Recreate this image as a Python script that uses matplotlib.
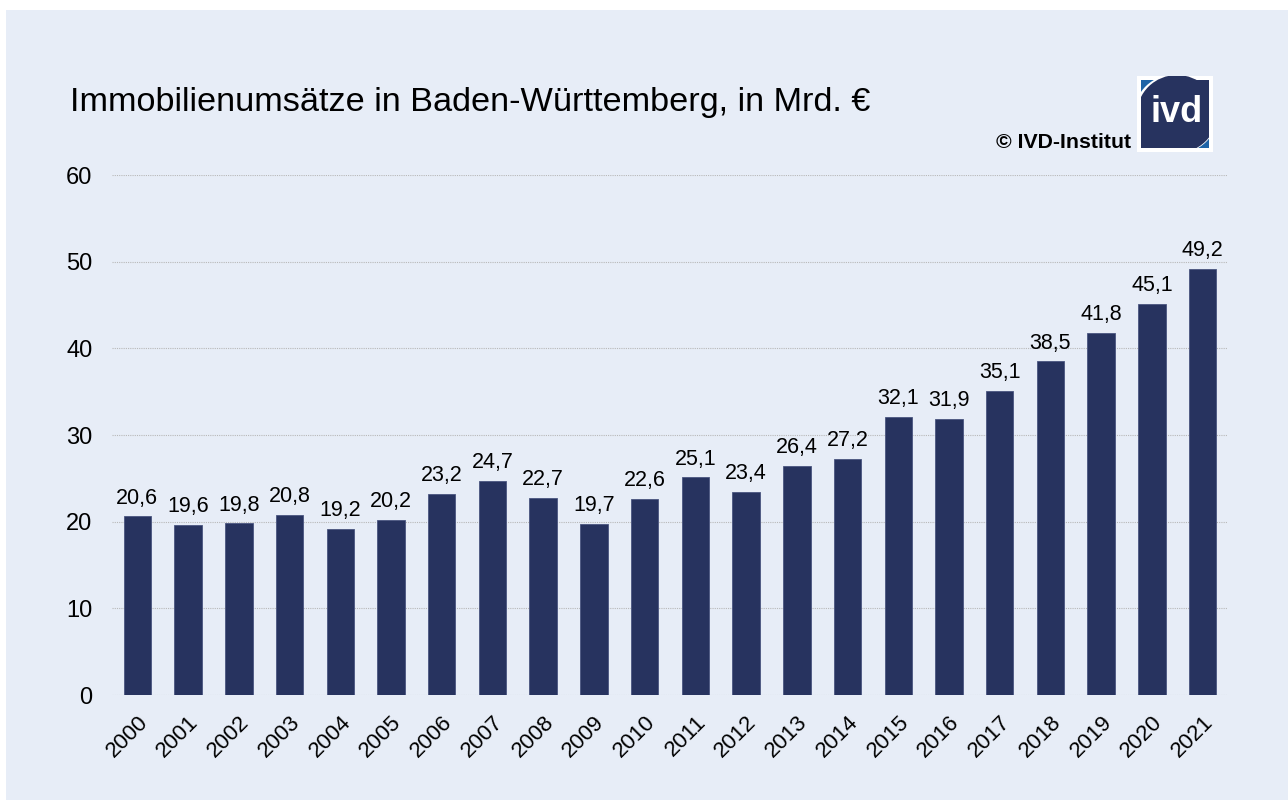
import matplotlib
matplotlib.use("Agg")
import matplotlib.pyplot as plt
from matplotlib.patches import Rectangle, Ellipse
from matplotlib.transforms import ScaledTranslation
import numpy as np

plt.rcParams['font.family'] = ['Liberation Sans', 'DejaVu Sans']

years = [str(y) for y in range(2000, 2022)]
values = [20.6, 19.6, 19.8, 20.8, 19.2, 20.2, 23.2, 24.7, 22.7, 19.7, 22.6,
          25.1, 23.4, 26.4, 27.2, 32.1, 31.9, 35.1, 38.5, 41.8, 45.1, 49.2]
yticks = [0, 10, 20, 30, 40, 50, 60]
title = "Immobilienumsätze in Baden-Württemberg, in Mrd. €"
credit = "© IVD-Institut"

W, H = 1288, 800
fig = plt.figure(figsize=(W / 100, H / 100), dpi=100, facecolor='white')
bg = '#E7EDF7'
fig.patches.append(Rectangle((6 / W, 0), 1 - 6 / W, 1 - 10 / H, transform=fig.transFigure,
                             facecolor=bg, edgecolor='none', zorder=-5))

left, right = 112, 1228
top, bottom = 175, 695
ax = fig.add_axes([left / W, 1 - bottom / H, (right - left) / W, (bottom - top) / H])
ax.set_facecolor('none')
ax.set_zorder(2)

x = np.arange(len(years))
ax.bar(x, values, width=0.54, color='#27335F', edgecolor='#4A5580', linewidth=0.6, zorder=3)
for xi, v in zip(x, values):
    ax.text(xi, v + 0.9, f"{v:.1f}".replace('.', ','), ha='center', va='bottom',
            fontsize=15.5, color='black', zorder=4)

ax.set_xlim(-0.5, len(years) - 0.5)
ax.set_ylim(0, 60)
ax.set_yticks(yticks)
ax.set_yticklabels([str(t) for t in yticks], fontsize=17)
ax.set_xticks(x)
ax.set_xticklabels(years, rotation=45, ha='right', va='top', fontsize=16, rotation_mode='anchor')
shift = ScaledTranslation(4 / 100, 0, fig.dpi_scale_trans)
for lab in ax.get_xticklabels():
    lab.set_transform(lab.get_transform() + shift)
ax.tick_params(axis='both', length=0)
ax.tick_params(axis='y', pad=14)
ax.tick_params(axis='x', pad=12)
ax.grid(axis='y', color='#B8B8B8', linestyle=(0, (1, 1)), linewidth=0.8, zorder=0)
ax.set_axisbelow(True)
for s in ax.spines.values():
    s.set_visible(False)

fig.text(70 / W, 1 - 103 / H, title, fontsize=24.7, ha='left', va='center', color='black')
fig.text(1131 / W, 1 - 143 / H, credit, fontsize=15.3, fontweight='bold', ha='right', va='center')

# logo
def frect(x0, y0, w, h, color, z):
    fig.patches.append(Rectangle((x0 / W, 1 - (y0 + h) / H), w / W, h / H, transform=fig.transFigure,
                                 facecolor=color, edgecolor='none', zorder=z))

def fell(cx, cy, w, h, color, z):
    fig.patches.append(Ellipse((cx / W, 1 - cy / H), w / W, h / H, transform=fig.transFigure,
                               facecolor=color, edgecolor='none', zorder=z))

navy = '#27335F'
frect(1137, 76, 76, 76, 'white', 5)
ix0, iy0, iw, ih = 1141, 80, 68, 68
frect(ix0, iy0, iw, ih, '#1E63A6', 6)
cx, cy = ix0 + iw / 2, iy0 + ih / 2
fell(cx + 1, cy, 84, 80, 'white', 7)
fell(cx + 2, cy, 80, 78, navy, 8)
frect(cx, iy0, iw / 2, ih / 2, navy, 8)
frect(ix0, cy, iw / 2, ih / 2, navy, 8)
frect(ix0 - 6, iy0 - 6, iw + 12, 2, 'white', 9)
frect(ix0 - 6, iy0 + ih, iw + 12, 4, 'white', 9)
frect(ix0 - 4, iy0 - 4, 4, ih + 8, 'white', 9)
frect(ix0 + iw, iy0 - 4, 4, ih + 8, 'white', 9)
frect(ix0 - 10, iy0 - 10, iw + 20, 6, bg, 9)
frect(ix0 - 10, iy0 + ih + 4, iw + 20, 6, bg, 9)
frect(ix0 - 10, iy0 - 10, 6, ih + 20, bg, 9)
frect(ix0 + iw + 4, iy0 - 10, 6, ih + 20, bg, 9)
fig.text((cx + 2) / W, 1 - (cy - 1) / H, "ivd", fontsize=26, fontweight='bold',
         color='white', ha='center', va='center', zorder=10)

fig.savefig('out.png', dpi=100, facecolor=fig.get_facecolor())
